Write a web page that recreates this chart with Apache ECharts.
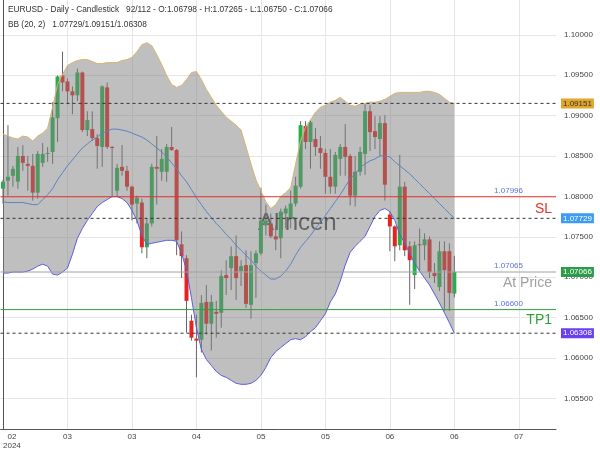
<!DOCTYPE html>
<html>
<head>
<meta charset="utf-8">
<script src="https://cdn.jsdelivr.net/npm/echarts@6/dist/echarts.min.js"></script>
<style>html,body{margin:0;padding:0;background:#fff;}#c{width:600px;height:450px;}</style>
</head>
<body>
<div id="c"></div>
<script>
const openP = [
1.08096,1.08194,1.08256,1.08182,1.08501,1.08403,1.08379,1.08047,1.08415,1.08526,
1.08550,1.08968,1.09496,1.09422,1.09300,1.09251,1.09533,1.08821,1.08833,1.08722,
1.08612,1.09349,1.08612,1.08071,1.08366,1.08317,1.08121,1.07912,1.07924,1.07371,
1.07666,1.08366,1.08305,1.08305,1.08612,1.08575,1.07408,1.07236,1.06462,1.06241,
1.06228,1.06695,1.06425,1.06573,1.06561,1.07027,1.07113,1.07261,1.07076,1.07150,
1.06659,1.07175,1.07297,1.07642,1.07666,1.07506,1.07482,1.07789,1.07727,1.07912,
1.08121,1.08870,1.08673,1.08710,1.08599,1.08538,1.08243,1.08121,1.08464,1.08612,
1.08501,1.08010,1.08305,1.08526,1.09054,1.08808,1.08710,1.08907,1.07776,1.07629,
1.07396,1.08121,1.07383,1.07027,1.07408,1.07396,1.07469,1.07052,1.06880,1.07322,
1.07322,1.06798];
const closeP = [
1.08182,1.08243,1.08342,1.08501,1.08415,1.08379,1.08047,1.08526,1.08526,1.08538,
1.08980,1.09484,1.09410,1.09300,1.09251,1.09533,1.08821,1.08944,1.08722,1.08624,
1.09361,1.08612,1.08599,1.08354,1.08317,1.08121,1.07899,1.07985,1.07371,1.07666,
1.08366,1.08342,1.08464,1.08612,1.08575,1.07457,1.07261,1.06708,1.06253,1.06216,
1.06683,1.06425,1.06695,1.06548,1.07015,1.06990,1.07261,1.06990,1.07138,1.06671,
1.07150,1.07297,1.07703,1.07703,1.07506,1.07469,1.07813,1.07850,1.07912,1.08133,
1.08882,1.08673,1.08919,1.08612,1.08538,1.08243,1.08121,1.08514,1.08612,1.08489,
1.08010,1.08305,1.08550,1.09054,1.08796,1.08735,1.08907,1.08145,1.07629,1.07383,
1.08121,1.07334,1.07211,1.07396,1.07396,1.07469,1.07064,1.07015,1.07322,1.07088,
1.06806,1.07066];
const highP = [
1.08206,1.08882,1.08379,1.08612,1.08636,1.08501,1.08526,1.08562,1.08661,1.08612,
1.09165,1.09496,1.09791,1.09459,1.09361,1.09582,1.09545,1.09054,1.09054,1.08772,
1.09373,1.09410,1.08624,1.08403,1.08636,1.08379,1.08133,1.08010,1.07973,1.07727,
1.08403,1.08747,1.08587,1.08649,1.08858,1.08587,1.07568,1.07273,1.06536,1.06536,
1.06781,1.06904,1.06781,1.06708,1.07088,1.07211,1.07383,1.07518,1.07211,1.07334,
1.07322,1.07334,1.08108,1.07899,1.07789,1.07642,1.07850,1.07887,1.08071,1.08243,
1.08931,1.08931,1.08944,1.08845,1.08747,1.08587,1.08587,1.08550,1.08649,1.08894,
1.08526,1.08501,1.08612,1.09140,1.09128,1.08993,1.08993,1.09005,1.07813,1.07642,
1.08514,1.08182,1.07445,1.07445,1.07604,1.07543,1.07506,1.07175,1.07445,1.07445,
1.07420,1.07265];
const lowP = [
1.07912,1.08010,1.08121,1.08096,1.08317,1.08071,1.07948,1.07973,1.08366,1.08428,
1.08403,1.08673,1.09300,1.09140,1.09017,1.09177,1.08796,1.08747,1.08685,1.08342,
1.08366,1.08587,1.07998,1.07998,1.08256,1.08071,1.07703,1.07666,1.07297,1.07236,
1.07629,1.07899,1.08194,1.08182,1.08562,1.07273,1.06990,1.06315,1.06216,1.05762,
1.06069,1.06290,1.06093,1.06253,1.06376,1.06781,1.06843,1.06720,1.06892,1.06622,
1.06487,1.06745,1.07273,1.07518,1.07482,1.07334,1.07236,1.07604,1.07604,1.07875,
1.08096,1.08587,1.08342,1.08501,1.08342,1.08035,1.08035,1.08035,1.08256,1.08256,
1.07887,1.07875,1.08256,1.08268,1.08562,1.08587,1.08501,1.07948,1.07322,1.07199,
1.07334,1.07261,1.06659,1.06855,1.07076,1.07211,1.06990,1.06929,1.06831,1.06585,
1.06585,1.06750];
const bbUpper = [
1.08772,1.08747,1.08722,1.08710,1.08747,1.08735,1.08685,1.08747,1.08784,1.08845,
1.09103,1.09386,1.09509,1.09619,1.09656,1.09681,1.09693,1.09693,1.09668,1.09644,
1.09644,1.09656,1.09656,1.09656,1.09681,1.09693,1.09718,1.09791,1.09877,1.09902,
1.09865,1.09754,1.09632,1.09496,1.09386,1.09349,1.09373,1.09447,1.09533,1.09545,
1.09447,1.09324,1.09226,1.09128,1.09054,1.08980,1.08931,1.08882,1.08821,1.08612,
1.08403,1.08206,1.08071,1.07936,1.07850,1.07899,1.07998,1.08047,1.08108,1.08403,
1.08685,1.08858,1.08944,1.09042,1.09103,1.09128,1.09165,1.09189,1.09226,1.09177,
1.09128,1.09116,1.09140,1.09152,1.09165,1.09165,1.09177,1.09202,1.09238,1.09275,
1.09287,1.09287,1.09287,1.09287,1.09287,1.09300,1.09300,1.09287,1.09263,1.09214,
1.09165,1.09151];
const bbMiddle = [
1.07936,1.07924,1.07924,1.07924,1.07924,1.07912,1.07899,1.07899,1.07961,1.08022,
1.08096,1.08206,1.08293,1.08379,1.08452,1.08526,1.08599,1.08649,1.08698,1.08735,
1.08784,1.08808,1.08833,1.08833,1.08821,1.08808,1.08784,1.08759,1.08735,1.08698,
1.08649,1.08599,1.08550,1.08489,1.08415,1.08342,1.08256,1.08182,1.08084,1.07985,
1.07899,1.07813,1.07739,1.07666,1.07604,1.07531,1.07469,1.07396,1.07334,1.07273,
1.07211,1.07138,1.07076,1.07027,1.06978,1.06978,1.07015,1.07076,1.07162,1.07273,
1.07371,1.07445,1.07518,1.07604,1.07678,1.07764,1.07850,1.07936,1.08022,1.08121,
1.08219,1.08280,1.08354,1.08403,1.08440,1.08464,1.08501,1.08501,1.08489,1.08428,
1.08379,1.08330,1.08280,1.08219,1.08157,1.08096,1.08035,1.07973,1.07912,1.07850,
1.07789,1.07729];
const bbLower = [
1.07052,1.07052,1.07064,1.07064,1.07064,1.07076,1.07101,1.07138,1.07162,1.07138,
1.07039,1.07027,1.07064,1.07113,1.07285,1.07482,1.07604,1.07703,1.07789,1.07875,
1.07924,1.07961,1.07998,1.07998,1.07973,1.07924,1.07826,1.07703,1.07518,1.07408,
1.07420,1.07433,1.07445,1.07457,1.07457,1.07445,1.07297,1.07088,1.06745,1.06376,
1.06106,1.05983,1.05909,1.05835,1.05786,1.05762,1.05725,1.05688,1.05676,1.05676,
1.05688,1.05725,1.05786,1.05885,1.06007,1.06081,1.06130,1.06179,1.06228,1.06241,
1.06228,1.06265,1.06327,1.06376,1.06462,1.06548,1.06695,1.06794,1.06953,1.07150,
1.07310,1.07383,1.07445,1.07506,1.07629,1.07752,1.07826,1.07850,1.07813,1.07703,
1.07531,1.07420,1.07297,1.07175,1.07076,1.06990,1.06904,1.06794,1.06683,1.06561,
1.06437,1.06308];

const totalSlots = 112;
const priceRange = [1.05123, 1.1043];
const yTickValues = [1.055, 1.06, 1.065, 1.07, 1.075, 1.08, 1.085, 1.09, 1.095, 1.10];
const xTickIndex = [0, 13, 26, 39, 52, 65, 78, 91, 104];
const xTickLabels = ['{c|02}\n{c|2024}', '03', '03', '04', '05', '05', '06', '06', '07'];

const dashedLevels = [1.09151, 1.07729, 1.06308];
const tradeLevels = [1.07996, 1.07065, 1.06600];
const tradeNames = ['SL', 'At Price', 'TP1'];
const tradeColors = ['#e8302a', '#a0a0a0', '#30a03a'];
const badgeValues = [1.09151, 1.07729, 1.07066, 1.06308];
const badgeColors = ['#e2a62c', '#3d9bf4', '#2b9d49', '#6a40ee'];
const badgeText = ['#333', '#fff', '#fff', '#fff'];

const header1 = 'EURUSD - Daily - Candlestick   92/112 - O:1.06798 - H:1.07265 - L:1.06750 - C:1.07066';
const header2 = 'BB (20, 2)   1.07729/1.09151/1.06308';

const FONT = '"Liberation Sans", Arial, sans-serif';
const UP = '#22b04b', DOWN = '#e8231e';

const candleData = openP.map((o, i) => [i, o, closeP[i], lowP[i], highP[i]]);
const toXY = arr => arr.map((v, i) => [i, v]);
const bandData = bbUpper.map((u, i) => [i, u, bbLower[i]]);
const xStart = -0.5, xEnd = totalSlots - 0.5;

const levelSeries = [];
dashedLevels.forEach(v => levelSeries.push({type: 'line', z: 6, silent: true, symbol: 'none', clip: true,
  data: [[xStart, v], [xEnd, v]], lineStyle: {color: '#333', type: [3, 3], width: 1}}));
tradeLevels.forEach((v, k) => levelSeries.push({type: 'line', z: 6, silent: true, symbol: 'none', clip: true,
  data: [[xStart, v], [xEnd, v]], lineStyle: {color: tradeColors[k], type: 'solid', width: 1}}));

const pointMarks = [];
tradeLevels.forEach((v, k) => {
  pointMarks.push({coord: [xEnd, v], value: v,
    label: {show: true, position: 'left', distance: 4, offset: [0, k === 0 ? 12 : 11], formatter: tradeNames[k],
      color: tradeColors[k], fontSize: 14, fontFamily: FONT}});
  pointMarks.push({coord: [xEnd, v], value: v,
    label: {show: true, position: 'left', distance: 33, offset: [0, -6], formatter: v.toFixed(5), color: '#5a6fe0', fontSize: 8, fontFamily: FONT}});
});
badgeValues.forEach((v, k) => pointMarks.push({coord: [xEnd, v], value: v,
  label: {show: true, position: 'right', distance: 5, formatter: v.toFixed(5), color: badgeText[k], backgroundColor: badgeColors[k],
    fontSize: 8, padding: [1, 2, 1, 2], fontFamily: FONT}}));

const chart = echarts.init(document.getElementById('c'), null, {renderer: 'canvas'});
chart.setOption({
  animation: false,
  textStyle: {fontFamily: FONT},
  grid: {left: 0, right: 44, top: 0, bottom: 18},
  xAxis: {
    type: 'value', min: xStart, max: xEnd,
    axisLine: {show: true, onZero: false, lineStyle: {color: '#555'}},
    axisTick: {show: false, customValues: xTickIndex},
    axisLabel: {customValues: xTickIndex, color: '#444', fontSize: 8, margin: 3, lineHeight: 9,
      alignMinLabel: 'left',
      rich: {c: {align: 'center', fontSize: 8, color: '#444', lineHeight: 9, fontFamily: FONT}},
      formatter: v => xTickLabels[xTickIndex.indexOf(v)] || ''},
    splitLine: {show: true, lineStyle: {color: '#e6e6e6'}}
  },
  yAxis: {
    type: 'value', position: 'right', min: priceRange[0], max: priceRange[1],
    axisLine: {show: true, lineStyle: {color: '#555'}},
    axisTick: {show: false, customValues: yTickValues},
    axisLabel: {customValues: yTickValues, color: '#444', fontSize: 8, margin: 8, formatter: v => v.toFixed(5)},
    splitLine: {show: true, lineStyle: {color: '#e6e6e6'}}
  },
  graphic: [
    {type: 'text', left: 258, top: 211, z: 1, silent: true,
      style: {text: 'Alincen', fontSize: 24, fill: '#484848', fontFamily: FONT}},
    {type: 'text', left: 8, top: 6, z: 100, silent: true,
      style: {text: header1, fontSize: 8.3, fill: '#333', fontFamily: FONT}},
    {type: 'text', left: 8, top: 21, z: 100, silent: true,
      style: {text: header2, fontSize: 8.3, fill: '#333', fontFamily: FONT}}
  ],
  series: [
    {
      type: 'custom', z: 2, clip: true, data: candleData,
      encode: {x: 0, y: [1, 2, 3, 4]},
      renderItem: function (params, api) {
        const x = api.value(0), o = api.value(1), c = api.value(2), l = api.value(3), h = api.value(4);
        const pO = api.coord([x, o]), pC = api.coord([x, c]), pL = api.coord([x, l]), pH = api.coord([x, h]);
        const top = Math.min(pO[1], pC[1]), bot = Math.max(pO[1], pC[1]);
        const col = c >= o ? UP : DOWN;
        return {type: 'group', children: [
          {type: 'line', shape: {x1: pH[0], y1: pH[1], x2: pL[0], y2: pL[1]}, style: {stroke: '#666', lineWidth: 1}},
          {type: 'rect', shape: {x: pO[0] - 2, y: top, width: 4, height: Math.max(bot - top, 1)}, style: {fill: col}}
        ]};
      }
    },
    {
      type: 'custom', z: 3, clip: true, silent: true, data: bandData,
      encode: {x: 0, y: [1, 2]},
      renderItem: function (params, api) {
        if (params.dataIndexInside !== 0) return null;
        const n = params.dataInsideLength;
        const upperPts = [], lowerPts = [];
        for (let j = 0; j < n; j++) {
          const xv = api.value(0, j);
          upperPts.push(api.coord([xv, api.value(1, j)]));
          lowerPts.push(api.coord([xv, api.value(2, j)]));
        }
        return {type: 'polygon', shape: {points: upperPts.concat(lowerPts.reverse())},
          style: {fill: 'rgba(128,128,128,0.5)'}};
      }
    },
    {type: 'line', z: 4, data: toXY(bbUpper), symbol: 'none', silent: true, lineStyle: {color: '#d9b36a', width: 1}},
    {type: 'line', z: 4, data: toXY(bbLower), symbol: 'none', silent: true, lineStyle: {color: '#5c5ce0', width: 1}},
    {type: 'line', z: 5, data: toXY(bbMiddle), symbol: 'none', silent: true, lineStyle: {color: '#5b82c2', width: 1},
      markPoint: {silent: true, symbol: 'circle', symbolSize: 0, animation: false,
        itemStyle: {color: 'rgba(0,0,0,0)'}, data: pointMarks}}
  ].concat(levelSeries)
});
</script>
</body>
</html>
